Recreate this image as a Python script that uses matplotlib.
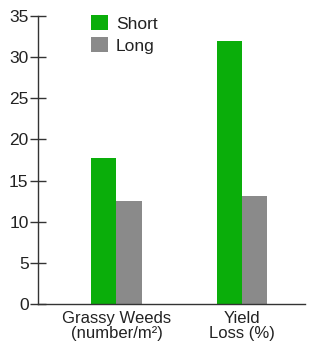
import matplotlib
matplotlib.use("Agg")
import matplotlib.pyplot as plt
import numpy as np

plt.rcParams['font.family'] = ['Liberation Sans', 'DejaVu Sans']

categories = ["Grassy Weeds\n(number/m²)", "Yield\nLoss (%)"]
short_vals = [17.7, 32.0]
long_vals = [12.5, 13.1]
yticks = [0, 5, 10, 15, 20, 25, 30, 35]

fig = plt.figure(figsize=(3.13, 3.5), dpi=100)
ax = fig.add_axes([38/313, 1-304/350, (305-38)/313, (304-16)/350])

x = np.arange(len(categories))
w = 0.203
ax.bar(x - w/2, short_vals, w, color='#0aae0a', label='Short', zorder=2)
ax.bar(x + w/2, long_vals, w, color='#8a8a8a', label='Long', zorder=2)

ax.set_xlim(-0.6255, 1.502)
ax.set_ylim(0, 35)
ax.set_yticks(yticks)
ax.set_xticks(x)
ax.set_xticklabels(categories, fontsize=12, color='#222222', linespacing=1.0)
ax.tick_params(axis='x', length=0, pad=5)
ax.tick_params(axis='y', direction='inout', length=11.5, width=1, colors='#333333',
               labelsize=12.5, labelcolor='#222222', pad=1)
for s in ['top', 'right']:
    ax.spines[s].set_visible(False)
for s in ['left', 'bottom']:
    ax.spines[s].set_color('#333333')
    ax.spines[s].set_linewidth(1)

ax.legend(loc='upper left', bbox_to_anchor=(53/267, 1.003), frameon=False, fontsize=12.5,
          borderpad=0, borderaxespad=0,
          handlelength=0.98, handleheight=0.98, handletextpad=0.45, labelspacing=0.3,
          labelcolor='#222222')

fig.savefig("out.png", dpi=100)
